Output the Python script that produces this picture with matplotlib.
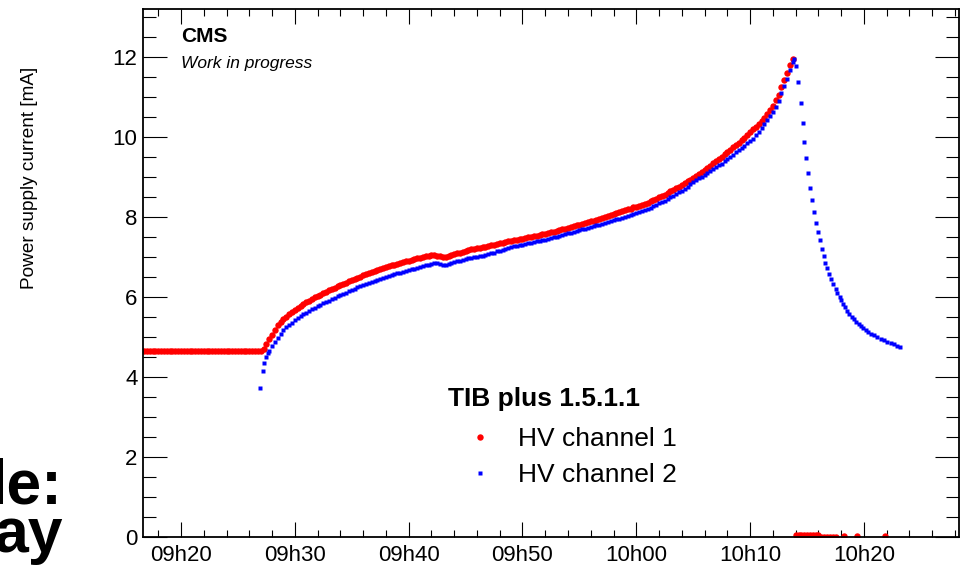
import matplotlib
matplotlib.use('Agg')
import matplotlib.pyplot as plt
import numpy as np
from matplotlib.ticker import MultipleLocator

# ---------------- data (time in minutes after 09h00) ----------------
tick_minutes = [20, 30, 40, 50, 60, 70, 80]
tick_labels = ["09h20", "09h30", "09h40", "09h50", "10h00", "10h10", "10h20"]

# HV channel 1: regular 15 s samples starting at 09h16m45s
red_start = 16.75
red_step = 0.25
red_current = [
    4.65,
    4.66, 4.65, 4.65, 4.64,   # 17
    4.65, 4.65, 4.66, 4.65,   # 18
    4.64, 4.65, 4.65, 4.65,   # 19
    4.66, 4.65, 4.64, 4.65,   # 20
    4.65, 4.65, 4.66, 4.65,   # 21
    4.65, 4.64, 4.65, 4.65,   # 22
    4.65, 4.66, 4.65, 4.64,   # 23
    4.65, 4.65, 4.65, 4.66,   # 24
    4.65, 4.64, 4.65, 4.65,   # 25
    4.65, 4.65, 4.64, 4.65,   # 26
    4.65, 4.70, 4.82, 4.95,   # 27
    5.06, 5.18, 5.29, 5.37,   # 28
    5.44, 5.51, 5.57, 5.62,   # 29
    5.67, 5.72, 5.77, 5.82,   # 30
    5.87, 5.91, 5.95, 5.99,   # 31
    6.02, 6.06, 6.09, 6.13,   # 32
    6.17, 6.20, 6.23, 6.27,   # 33
    6.30, 6.33, 6.36, 6.39,   # 34
    6.42, 6.45, 6.48, 6.51,   # 35
    6.54, 6.57, 6.59, 6.62,   # 36
    6.64, 6.67, 6.69, 6.72,   # 37
    6.74, 6.77, 6.79, 6.81,   # 38
    6.83, 6.85, 6.87, 6.89,   # 39
    6.91, 6.93, 6.95, 6.97,   # 40
    6.98, 7.00, 7.02, 7.03,   # 41
    7.04, 7.04, 7.03, 7.03,   # 42
    7.00, 6.99, 7.03, 7.05,   # 43
    7.07, 7.09, 7.11, 7.13,   # 44
    7.15, 7.17, 7.19, 7.20,   # 45
    7.22, 7.23, 7.25, 7.26,   # 46
    7.27, 7.29, 7.31, 7.33,   # 47
    7.35, 7.36, 7.38, 7.39,   # 48
    7.40, 7.42, 7.43, 7.45,   # 49
    7.46, 7.48, 7.49, 7.50,   # 50
    7.52, 7.53, 7.55, 7.57,   # 51
    7.58, 7.60, 7.62, 7.63,   # 52
    7.65, 7.67, 7.69, 7.71,   # 53
    7.73, 7.75, 7.77, 7.79,   # 54
    7.81, 7.83, 7.85, 7.87,   # 55
    7.89, 7.91, 7.93, 7.96,   # 56
    7.98, 8.00, 8.02, 8.05,   # 57
    8.07, 8.09, 8.12, 8.14,   # 58
    8.17, 8.19, 8.21, 8.24,   # 59
    8.26, 8.28, 8.31, 8.33,   # 60
    8.36, 8.39, 8.42, 8.45,   # 61
    8.49, 8.52, 8.56, 8.60,   # 62
    8.64, 8.68, 8.72, 8.76,   # 63
    8.80, 8.85, 8.89, 8.93,   # 64
    8.98, 9.03, 9.08, 9.13,   # 65
    9.18, 9.23, 9.28, 9.34,   # 66
    9.39, 9.45, 9.51, 9.57,   # 67
    9.63, 9.68, 9.74, 9.80,   # 68
    9.86, 9.92, 9.98, 10.05,  # 69
    10.12, 10.19, 10.26, 10.33,  # 70
    10.40, 10.48, 10.57, 10.68,  # 71
    10.78, 10.92, 11.06, 11.24,  # 72
    11.42, 11.61, 11.79, 11.96,  # 73
]
# HV channel 1 after the trip (current ~0)
red_trip_t = [74.0, 74.25, 74.5, 74.75, 75.0, 75.25, 75.5, 75.75, 76.0,
              76.25, 76.5, 76.75, 77.0, 77.25, 77.5, 78.25, 79.36, 81.82]
red_trip_v = [0.04, 0.04, 0.04, 0.04, 0.04, 0.04, 0.04, 0.04, 0.04,
              0.0, 0.0, 0.0, 0.0, 0.0, 0.0, 0.03, 0.03, 0.03]

# HV channel 2: first points when switched on
blue_on_t = [26.96, 27.17, 27.31, 27.46, 27.63]
blue_on_v = [3.73, 4.15, 4.34, 4.51, 4.59]
# HV channel 2: regular 15 s samples starting at 09h27m45s
blue_start = 27.75
blue_step = 0.25
blue_current = [
    4.66,
    4.78, 4.88, 4.98, 5.08,   # 28
    5.17, 5.24, 5.30, 5.36,   # 29
    5.42, 5.47, 5.52, 5.57,   # 30
    5.61, 5.65, 5.69, 5.73,   # 31
    5.77, 5.80, 5.84, 5.87,   # 32
    5.91, 5.95, 5.98, 6.02,   # 33
    6.05, 6.08, 6.11, 6.15,   # 34
    6.18, 6.21, 6.24, 6.27,   # 35
    6.30, 6.33, 6.35, 6.38,   # 36
    6.40, 6.43, 6.45, 6.48,   # 37
    6.50, 6.52, 6.55, 6.57,   # 38
    6.59, 6.61, 6.63, 6.65,   # 39
    6.67, 6.69, 6.71, 6.73,   # 40
    6.75, 6.77, 6.79, 6.81,   # 41
    6.83, 6.84, 6.84, 6.83,   # 42
    6.81, 6.80, 6.83, 6.85,   # 43
    6.87, 6.89, 6.91, 6.93,   # 44
    6.95, 6.97, 6.98, 7.00,   # 45
    7.01, 7.02, 7.03, 7.05,   # 46
    7.07, 7.09, 7.11, 7.14,   # 47
    7.16, 7.18, 7.21, 7.23,   # 48
    7.25, 7.27, 7.28, 7.30,   # 49
    7.31, 7.33, 7.34, 7.36,   # 50
    7.37, 7.39, 7.40, 7.42,   # 51
    7.43, 7.45, 7.47, 7.49,   # 52
    7.51, 7.53, 7.55, 7.57,   # 53
    7.59, 7.61, 7.63, 7.65,   # 54
    7.67, 7.69, 7.71, 7.73,   # 55
    7.75, 7.77, 7.79, 7.81,   # 56
    7.83, 7.85, 7.88, 7.90,   # 57
    7.92, 7.94, 7.96, 7.98,   # 58
    8.00, 8.03, 8.05, 8.08,   # 59
    8.10, 8.13, 8.15, 8.17,   # 60
    8.20, 8.23, 8.27, 8.30,   # 61
    8.34, 8.37, 8.41, 8.45,   # 62
    8.49, 8.53, 8.57, 8.62,   # 63
    8.66, 8.71, 8.76, 8.82,   # 64
    8.87, 8.92, 8.97, 9.01,   # 65
    9.06, 9.10, 9.15, 9.19,   # 66
    9.24, 9.29, 9.33, 9.39,   # 67
    9.44, 9.50, 9.56, 9.62,   # 68
    9.67, 9.73, 9.78, 9.84,   # 69
    9.89, 9.95, 10.04, 10.13,  # 70
    10.23, 10.32, 10.42, 10.52,  # 71
    10.63, 10.76, 10.91, 11.11,  # 72
    11.27, 11.46, 11.67, 11.87,  # 73
]
# HV channel 2: peak and decay
blue_decay_t = [73.86, 74.06, 74.24, 74.45, 74.62, 74.76, 74.91, 75.11, 75.26, 75.41,
                75.61, 75.79, 75.96, 76.14, 76.29, 76.49, 76.61, 76.78, 76.93, 77.13,
                77.31, 77.52, 77.66, 77.87, 78.01, 78.18, 78.33, 78.54, 78.71, 78.92,
                79.12, 79.32, 79.54, 79.71, 79.94, 80.15, 80.38, 80.64, 80.88, 81.17,
                81.46, 81.75, 82.04, 82.34, 82.63, 82.92, 83.13]
blue_decay_v = [11.95, 11.78, 11.38, 10.86, 10.35, 9.88, 9.47, 9.10, 8.72, 8.42,
                8.13, 7.86, 7.63, 7.42, 7.19, 7.02, 6.86, 6.73, 6.57, 6.46,
                6.33, 6.21, 6.10, 6.00, 5.92, 5.83, 5.75, 5.66, 5.58, 5.50,
                5.44, 5.38, 5.33, 5.28, 5.23, 5.18, 5.13, 5.08, 5.04, 5.00,
                4.96, 4.92, 4.88, 4.85, 4.82, 4.78, 4.76]

legend_title = "TIB plus 1.5.1.1"
series_names = ["HV channel 1", "HV channel 2"]

# ---------------- assemble ----------------
red_t = np.concatenate([red_start + red_step * np.arange(len(red_current)), red_trip_t])
red_v = np.concatenate([red_current, red_trip_v])
blue_t = np.concatenate([blue_on_t, blue_start + blue_step * np.arange(len(blue_current)), blue_decay_t])
blue_v = np.concatenate([blue_on_v, blue_current, blue_decay_v])

plt.rcParams['font.family'] = ['Liberation Sans', 'DejaVu Sans']

W, H = 965, 565
fig = plt.figure(figsize=(W / 100, H / 100), dpi=100)
fig.patch.set_facecolor('white')
ax = fig.add_axes([143 / W, 28 / H, 816 / W, 528 / H])

ax.plot(red_t, red_v, ls='none', marker='o', ms=4.6, mfc='#ff0000', mec='none',
        label=series_names[0])
ax.plot(blue_t, blue_v, ls='none', marker='s', ms=2.8, mfc='#0000ff', mec='none',
        label=series_names[1])

ax.set_xlim(16.66, 88.35)
ax.set_ylim(0, 13.2)
ax.set_xticks(tick_minutes)
ax.set_xticklabels(tick_labels)
ax.xaxis.set_minor_locator(MultipleLocator(2))
ax.set_yticks([0, 2, 4, 6, 8, 10, 12])
ax.yaxis.set_minor_locator(MultipleLocator(0.5))

ax.tick_params(axis='x', which='major', direction='in', length=10.8, width=0.8,
               top=True, labelsize=16, pad=6)
ax.tick_params(axis='x', which='minor', direction='in', length=5, width=0.8, top=True)
ax.tick_params(axis='y', which='major', direction='in', length=17.3, width=0.8,
               right=True, labelsize=16, pad=4)
ax.tick_params(axis='y', which='minor', direction='in', length=9.4, width=0.8, right=True)
for s in ax.spines.values():
    s.set_linewidth(1.3)

fig.text(30 / W, 1 - 67 / H, 'Power supply current [mA]', rotation=90,
         ha='center', va='top', fontsize=13.7)

fig.text(181 / W, 1 - 42 / H, 'CMS', weight='bold', fontsize=15, va='baseline')
fig.text(181 / W, 1 - 68 / H, 'Work in progress', style='italic', fontsize=12.5,
         va='baseline')

leg = ax.legend(title=legend_title, loc='upper left',
                bbox_to_anchor=(448 / W, 1 - 387 / H), bbox_transform=fig.transFigure,
                frameon=False, fontsize=19,
                title_fontproperties={'weight': 'bold', 'size': 19},
                alignment='left', handlelength=2.4, handletextpad=0.25,
                borderpad=0, borderaxespad=0, labelspacing=0.46, numpoints=1)
# a little more room between the legend header and the entries
leg._legend_box.sep = 11.7

# fragments of slide text behind the figure
fig.text(62 / W, 1 - 503 / H, 'le:', weight='bold', fontsize=45, ha='right', va='baseline')
fig.text(63 / W, 1 - 552 / H, 'ay', weight='bold', fontsize=45, ha='right', va='baseline')

fig.savefig('out.png', dpi=100, facecolor='white')
